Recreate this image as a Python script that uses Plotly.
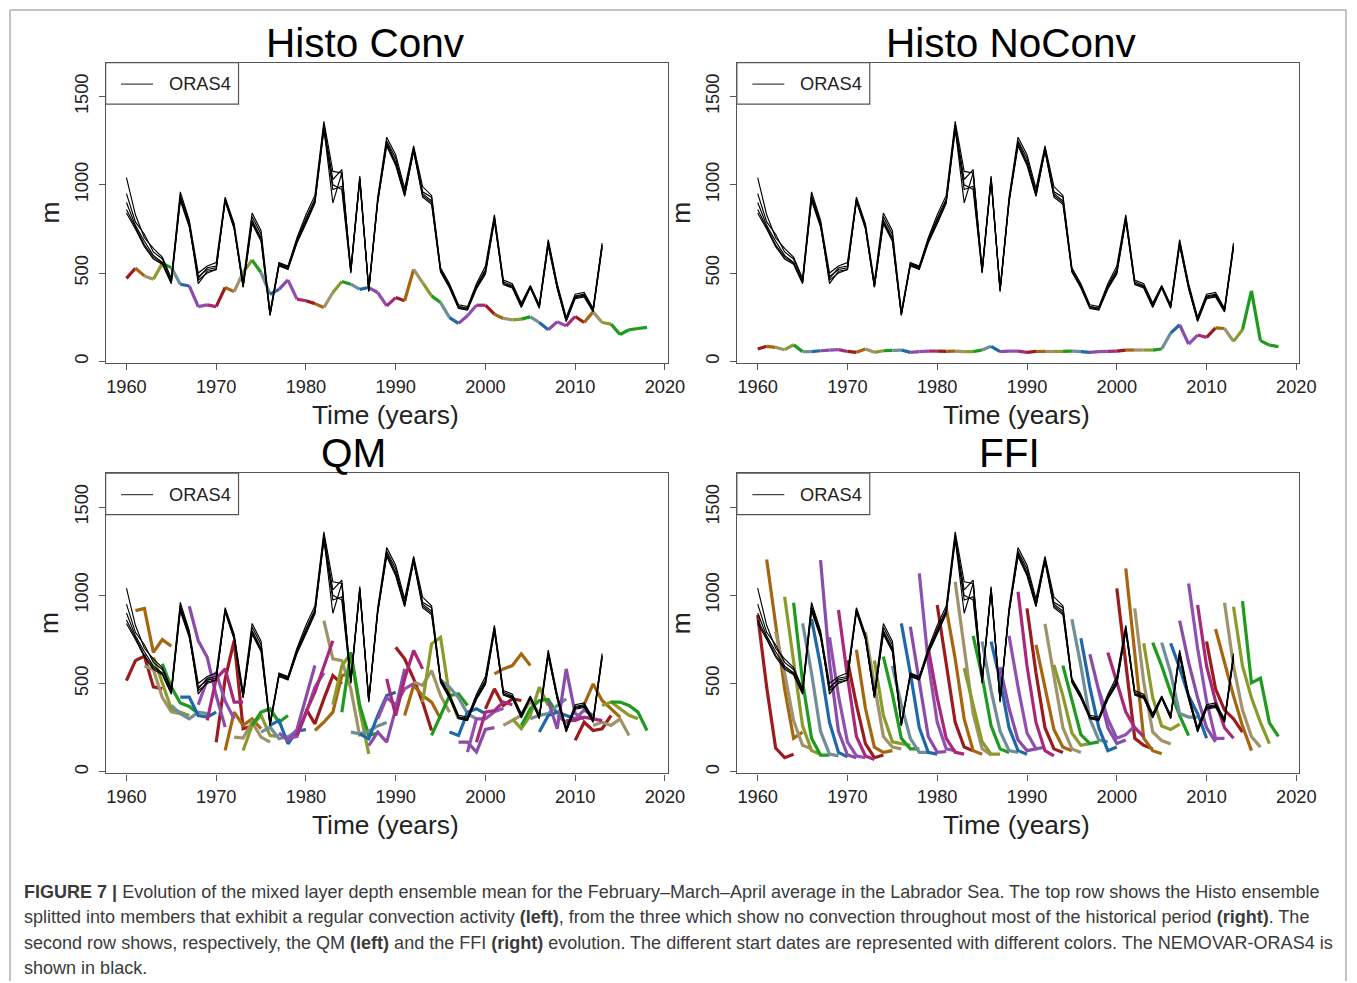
import plotly.graph_objects as go

REF_W, H = 1357, 983     # reference picture size (coordinates below are in reference pixels)
W = 1374                 # page width of the figure (renders back to 1357 px in the photo)
S = W / REF_W            # horizontal compensation factor for text sizes

# ---------------- data ----------------
oras_years = list(range(1960, 2014))
oras_m1 = [1040, 830, 700, 640, 590, 470, 960, 800, 500, 540, 560, 930, 780, 450, 840, 740, 280, 560, 540, 700, 830, 940, 1360, 1076, 1067, 520, 1050, 410, 930, 1270, 1170, 980, 1220, 990, 940, 530, 440, 320, 310, 440, 540, 830, 460, 440, 330, 430, 320, 690, 440, 250, 380, 390, 300, 670]
oras_m2 = [950, 790, 720, 620, 580, 460, 940, 790, 470, 530, 540, 920, 770, 430, 820, 720, 270, 555, 535, 690, 810, 920, 1340, 1030, 1086, 515, 1040, 405, 915, 1250, 1150, 960, 1210, 960, 930, 520, 430, 310, 300, 430, 520, 820, 450, 430, 320, 425, 315, 680, 430, 240, 370, 380, 295, 660]
oras_m3 = [900, 770, 680, 600, 560, 450, 930, 780, 440, 510, 520, 915, 760, 420, 800, 700, 265, 550, 530, 680, 800, 910, 1330, 973, 992, 510, 1035, 405, 910, 1240, 1130, 950, 1200, 950, 910, 515, 425, 310, 300, 420, 510, 810, 440, 425, 310, 425, 310, 670, 420, 235, 365, 375, 290, 655]
oras_m4 = [860, 760, 660, 590, 555, 445, 920, 770, 460, 500, 520, 910, 755, 425, 790, 690, 262, 545, 525, 675, 790, 900, 1320, 898, 1067, 505, 1030, 400, 905, 1230, 1120, 940, 1195, 940, 900, 510, 420, 305, 295, 415, 500, 800, 440, 420, 310, 420, 305, 660, 415, 230, 360, 370, 285, 650]
oras_m5 = [840, 750, 650, 580, 550, 440, 910, 760, 480, 520, 530, 905, 750, 420, 780, 680, 260, 540, 520, 670, 780, 895, 1310, 1000, 973, 500, 1025, 395, 900, 1220, 1110, 935, 1190, 930, 890, 505, 415, 300, 290, 410, 495, 795, 435, 415, 305, 415, 300, 655, 410, 225, 355, 365, 280, 640]
oras_members = [oras_m1, oras_m2, oras_m3, oras_m4, oras_m5]

histo_years = list(range(1960, 2019))
histo_conv = [470, 527, 484, 465, 555, 531, 437, 427, 310, 320, 310, 418, 395, 503, 574, 503, 380, 408, 461, 352,
              343, 327, 305, 390, 452, 437, 408, 418, 390, 314, 361, 343, 521, 446, 371, 333, 248, 215, 258, 318,
              318, 267, 243, 235, 239, 252, 220, 179, 224, 201, 254, 220, 280, 220, 211, 152, 179, 186, 192]
histo_noconv = [70, 85, 79, 66, 94, 55, 55, 60, 64, 66, 56, 51, 70, 51, 60, 62, 64, 51, 55, 58,
                58, 56, 58, 55, 55, 64, 85, 55, 58, 58, 51, 56, 56, 56, 56, 58, 55, 51, 55, 56,
                58, 64, 64, 64, 64, 70, 160, 207, 98, 149, 136, 190, 186, 113, 179, 399, 117, 92, 83]

start_years = list(range(1960, 2015))
qm_values = [
    [517, 630, 656, 481, 470], [913, 926, 677, 749, 711], [600, 580, 420, 340, 330], [649, 500, 357, 338, 319],
    [612, 480, 390, 370, 330], [376, 329, 300, 338, 330], [423, 423, 319, 310, 338], [938, 743, 649, 432, 253],
    [380, 520, 560, 400, 300], [291, 527, 583, 395, 395], [168, 527, 743, 244, 260], [121, 338, 263, 300, 244],
    [197, 191, 281, 197, 168], [121, 263, 320, 206, 200], [263, 338, 357, 281, 319], [225, 253, 187, 200, 230],
    [263, 291, 159, 230, 240], [220, 178, 240, 420, 602], [190, 200, 330, 480, 560], [206, 338, 451, 602, 743],
    [357, 272, 413, 545, 498], [234, 281, 338, 545, 560], [857, 640, 630, 470, 200], [380, 600, 670, 350, 102],
    [338, 677, 376, 206, 220], [225, 215, 230, 260, 280], [215, 187, 319, 432, 451], [149, 225, 168, 357, 583],
    [300, 420, 380, 470, 500], [527, 319, 527, 687, 583], [706, 640, 527, 395, 234], [319, 489, 432, 395, 300],
    [508, 490, 574, 432, 338], [395, 725, 762, 430, 300], [206, 319, 432, 442, 376], [520, 480, 420, 330, 300],
    [225, 206, 338, 357, 330], [168, 168, 112, 240, 250], [112, 300, 300, 340, 360], [168, 338, 347, 395, 380],
    [357, 470, 376, 413, 404], [555, 583, 602, 668, 602], [263, 291, 320, 400, 330], [300, 244, 319, 479, 376],
    [263, 357, 404, 410, 330], [300, 320, 330, 376, 413], [225, 319, 338, 320, 300], [400, 244, 583, 330, 300],
    [320, 280, 300, 350, 320], [290, 291, 310, 300, 290], [178, 281, 234, 244, 319], [380, 498, 404, 357, 310],
    [263, 281, 263, 300, 206], [376, 395, 357, 320, 300], [395, 395, 376, 338, 234]]
ffi_values = [
    [888, 480, 135, 80, 100], [1203, 822, 470, 190, 225], [794, 560, 290, 150, 130], [992, 620, 260, 120, 100],
    [958, 510, 190, 95, 95], [841, 560, 230, 100, 90], [866, 600, 280, 110, 85], [1199, 620, 230, 95, 80],
    [762, 430, 170, 90, 80], [917, 540, 200, 90, 70], [631, 380, 160, 80, 95], [691, 360, 140, 110, 120],
    [790, 500, 200, 140, 130], [631, 320, 170, 160, 150], [653, 440, 190, 130, 130], [600, 380, 190, 110, 110],
    [841, 560, 250, 110, 100], [822, 500, 200, 110, 115], [1124, 620, 280, 130, 120], [700, 420, 190, 110, 100],
    [945, 600, 280, 140, 120], [926, 640, 300, 120, 100], [1077, 700, 330, 130, 95], [587, 380, 170, 100, 100],
    [770, 540, 260, 130, 110], [738, 460, 230, 120, 110], [738, 520, 250, 120, 100], [593, 360, 180, 120, 130],
    [770, 480, 220, 130, 140], [1020, 600, 280, 120, 90], [926, 560, 250, 130, 110], [719, 480, 240, 140, 120],
    [838, 540, 250, 130, 110], [606, 430, 220, 150, 160], [602, 400, 210, 160, 170], [864, 600, 300, 180, 170],
    [757, 480, 250, 120, 140], [666, 450, 250, 160, 180], [465, 300, 190, 210, 260], [676, 500, 340, 250, 200],
    [1039, 620, 190, 150, 130], [1152, 653, 190, 120, 102], [926, 508, 226, 177, 158], [728, 420, 260, 240, 270],
    [732, 600, 450, 320, 205], [732, 560, 330, 310, 310], [728, 590, 430, 330, 190], [856, 620, 420, 250, 170],
    [1067, 700, 400, 190, 190], [945, 600, 400, 250, 190], [738, 470, 350, 300, 225], [809, 620, 430, 260, 120],
    [958, 600, 350, 200, 140], [935, 600, 420, 280, 160], [967, 504, 530, 277, 201]]

palette = ["#9B1B1E", "#A6650F", "#A0926A", "#8A9A2B", "#1E9A1E",
           "#6F8E99", "#1F68A8", "#8B4CA8", "#9050B0", "#A8287A"]

x_ticks = [1960, 1970, 1980, 1990, 2000, 2010, 2020]
y_ticks = [0, 500, 1000, 1500]
panel_titles = ["Histo Conv", "Histo NoConv", "QM", "FFI"]
x_title = "Time (years)"
y_title = "m"
legend_label = "ORAS4"

# ---------------- layout helpers ----------------
def px(x):
    return x / REF_W

def py(y):
    return 1 - y / H

XR = [1957.68, 2020.3]
YR = [-9, 1692]
FONT = "Liberation Sans, Arial, sans-serif"

# panel boxes in reference pixels: (left, top, right, bottom)
boxes = [(105.7, 62.7, 668.1, 363.3), (737.4, 62.7, 1300.0, 363.3),
         (105.7, 473.6, 668.1, 774.2), (737.4, 473.6, 1300.0, 774.2)]
title_centers = [366, 1012, 354, 1010]

fig = go.Figure()
last_start = start_years[-1]

def add_histo(idx, vals):
    for c in range(10):
        xs, ys = [], []
        for i in range(len(histo_years) - 1):
            if (min(histo_years[i], last_start) - 1960) % 10 == c:
                xs += [histo_years[i], histo_years[i + 1], None]
                ys += [vals[i], vals[i + 1], None]
        fig.add_trace(go.Scatter(x=xs, y=ys, mode="lines", line=dict(color=palette[c], width=3.2),
                                 xaxis="x%d" % idx, yaxis="y%d" % idx, showlegend=False, hoverinfo="skip"))

def add_fc(idx, values):
    for c in range(10):
        xs, ys = [], []
        for s, v in zip(start_years, values):
            if (s - 1960) % 10 == c:
                xs += list(range(s, s + len(v))) + [None]
                ys += list(v) + [None]
        fig.add_trace(go.Scatter(x=xs, y=ys, mode="lines", line=dict(color=palette[c], width=3.2),
                                 xaxis="x%d" % idx, yaxis="y%d" % idx, showlegend=False, hoverinfo="skip"))

def add_oras(idx):
    for m in oras_members:
        fig.add_trace(go.Scatter(x=oras_years, y=m, mode="lines", line=dict(color="black", width=1.15),
                                 xaxis="x%d" % idx, yaxis="y%d" % idx, showlegend=False, hoverinfo="skip"))

add_histo(1, histo_conv); add_oras(1)
add_histo(2, histo_noconv); add_oras(2)
add_fc(3, qm_values); add_oras(3)
add_fc(4, ffi_values); add_oras(4)

layout = dict(width=W, height=H, autosize=False, margin=dict(l=0, r=0, t=0, b=0),
              paper_bgcolor="white", plot_bgcolor="white", showlegend=False,
              font=dict(family=FONT, color="#222"))
shapes, annotations = [], []
for k, (l, t, r, b) in enumerate(boxes, start=1):
    ax_common = dict(showgrid=False, zeroline=False, showline=True, mirror=True,
                     linecolor="#555", linewidth=1.2, ticks="outside", ticklen=6,
                     tickcolor="#555", tickwidth=1.2, tickfont=dict(family=FONT, size=18 * S, color="#222"))
    layout["xaxis%d" % k] = dict(domain=[px(l), px(r)], range=XR, tickvals=x_ticks,
                                 anchor="y%d" % k, ticklabelstandoff=1, **ax_common)
    layout["yaxis%d" % k] = dict(domain=[py(b), py(t)], range=YR, tickvals=y_ticks,
                                 anchor="x%d" % k, tickangle=-90, ticklabelstandoff=3, **ax_common)
    # legend box
    shapes.append(dict(type="rect", xref="paper", yref="paper", x0=px(l), x1=px(l + 133),
                       y0=py(t + 41.5), y1=py(t), line=dict(color="#555", width=1.2), fillcolor="white"))
    shapes.append(dict(type="line", xref="paper", yref="paper", x0=px(l + 15.5), x1=px(l + 47.5),
                       y0=py(t + 21.5), y1=py(t + 21.5), line=dict(color="#444", width=1.2)))
    annotations.append(dict(text=legend_label, xref="paper", yref="paper", x=px(l + 61.5), y=py(t + 21.5),
                            xanchor="left", yanchor="middle", showarrow=False,
                            font=dict(family=FONT, size=18 * S, color="#222")))
    # titles
    annotations.append(dict(text=panel_titles[k - 1], xref="paper", yref="paper", x=px(title_centers[k - 1]),
                            y=py(t - 20), xanchor="center", yanchor="middle", showarrow=False,
                            font=dict(family=FONT, size=40 * S, color="black")))
    annotations.append(dict(text=x_title, xref="paper", yref="paper", x=px((l + r) / 2 - 1),
                            y=py(b + 52), xanchor="center", yanchor="middle", showarrow=False,
                            font=dict(family=FONT, size=26 * S, color="#222")))
    annotations.append(dict(text=y_title, xref="paper", yref="paper", x=px(l - 56), y=py((t + b) / 2),
                            xanchor="center", yanchor="middle", showarrow=False, textangle=-90,
                            font=dict(family=FONT, size=26 * S, color="#222")))

# outer frame (left, top, right edges; bottom edge lies beyond the picture)
for (x0, y0, x1, y1) in [(10, 10, 1347, 10), (10, 10, 10, 982), (1347, 10, 1347, 982)]:
    shapes.append(dict(type="line", xref="paper", yref="paper", x0=px(x0), x1=px(x1), y0=py(y0), y1=py(y1),
                       line=dict(color="#888", width=1), layer="below"))

caption = [
    "<b>FIGURE 7 |</b> Evolution of the mixed layer depth ensemble mean for the February–March–April average in the Labrador Sea. The top row shows the Histo ensemble",
    "splitted into members that exhibit a regular convection activity <b>(left)</b>, from the three which show no convection throughout most of the historical period <b>(right)</b>. The",
    "second row shows, respectively, the QM <b>(left)</b> and the FFI <b>(right)</b> evolution. The different start dates are represented with different colors. The NEMOVAR-ORAS4 is",
    "shown in black.",
]
for i, line in enumerate(caption):
    annotations.append(dict(text=line, xref="paper", yref="paper", x=px(22), y=py(893 + 25.4 * i),
                            xanchor="left", yanchor="middle", showarrow=False,
                            font=dict(family=FONT, size=17.8 * S, color="#3a3a3a")))

layout["shapes"] = shapes
layout["annotations"] = annotations
fig.update_layout(**layout)

fig.write_html("out.html",
               config={"responsive": False, "displayModeBar": False},
               post_script="document.body.style.margin='0';document.body.style.overflow='hidden';"
                           "document.documentElement.style.overflow='hidden';")
